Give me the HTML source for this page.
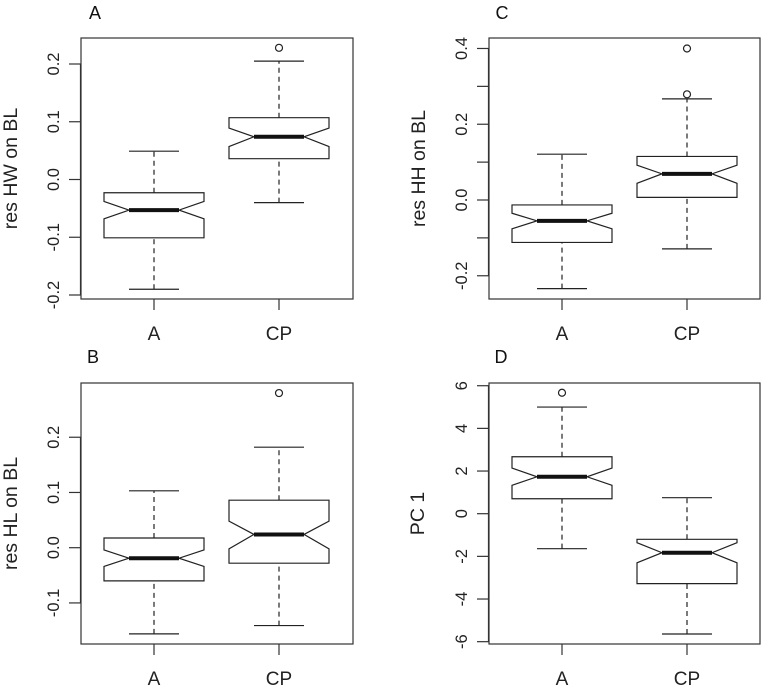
<!DOCTYPE html>
<html><head><meta charset="utf-8"><style>
html,body{margin:0;padding:0;background:#fff;}
svg{display:block;font-family:"Liberation Sans",Arial,sans-serif;}
</style></head><body>
<svg id="chart" width="761" height="686" viewBox="0 0 761 686" xmlns="http://www.w3.org/2000/svg"></svg>
<script>
const categories = ["A", "CP"];
// per panel: [whiskerLo, boxLo, notchLo, median, notchHi, boxHi, whiskerHi]
const statsA = [[-0.19,-0.101,-0.068,-0.053,-0.038,-0.023,0.049],[-0.040,0.036,0.057,0.074,0.089,0.107,0.205]];
const outliersA = [[],[0.228]];
const statsB = [[-0.156,-0.060,-0.034,-0.019,-0.004,0.0176,0.103],[-0.141,-0.028,-0.002,0.024,0.048,0.086,0.182]];
const outliersB = [[],[0.280]];
const statsC = [[-0.234,-0.112,-0.076,-0.055,-0.035,-0.013,0.121],[-0.129,0.007,0.044,0.069,0.092,0.115,0.267]];
const outliersC = [[],[0.279,0.40]];
const statsD = [[-1.64,0.70,1.33,1.73,2.14,2.67,5.0],[-5.64,-3.28,-2.30,-1.83,-1.36,-1.20,0.75]];
const outliersD = [[5.67],[]];
const ticksA = [-0.2,-0.1,0.0,0.1,0.2];
const tickLabelsA = ["-0.2","-0.1","0.0","0.1","0.2"];
const ticksB = [-0.1,0.0,0.1,0.2];
const tickLabelsB = ["-0.1","0.0","0.1","0.2"];
const ticksC = [-0.2,-0.1,0.0,0.1,0.2,0.3,0.4];
const tickLabelsC = ["-0.2","","0.0","","0.2","","0.4"];
const ticksD = [-6,-4,-2,0,2,4,6];
const tickLabelsD = ["-6","-4","-2","0","2","4","6"];

const NS="http://www.w3.org/2000/svg";
const svg=document.getElementById('chart');
function mk(tag,attrs,parent,text){const e=document.createElementNS(NS,tag);for(const k in attrs)e.setAttribute(k,attrs[k]);if(text!==undefined)e.textContent=text;(parent||svg).appendChild(e);return e;}

const panels=[
 {id:'a',title:'A',ylab:'res HW on BL',left:81,right:353,top:38,bottom:299,v0:0,p0:179.5,scale:577.5,stats:statsA,out:outliersA,ticks:ticksA,labels:tickLabelsA,titleX:95,titleY:19,ylabX:17},
 {id:'c',title:'C',ylab:'res HH on BL',left:489,right:760,top:38,bottom:299,v0:0,p0:200,scale:378.8,stats:statsC,out:outliersC,ticks:ticksC,labels:tickLabelsC,titleX:502,titleY:19,ylabX:425},
 {id:'b',title:'B',ylab:'res HL on BL',left:81,right:353,top:383,bottom:644,v0:0,p0:547.7,scale:552.3,stats:statsB,out:outliersB,ticks:ticksB,labels:tickLabelsB,titleX:93,titleY:363,ylabX:17},
 {id:'d',title:'D',ylab:'PC 1',left:489,right:760,top:383,bottom:644,v0:0,p0:513.7,scale:21.33,stats:statsD,out:outliersD,ticks:ticksD,labels:tickLabelsD,titleX:501,titleY:363,ylabX:424}
];

panels.forEach(p=>{
  const g=mk('g',{});
  
  
  const y=v=>p.p0-(v-p.v0)*p.scale;
  const x=i=>p.left+73+i*125;
  const t=mk('text',{x:p.titleX,y:p.titleY,'font-size':18,'text-anchor':'middle',fill:'#111'},g,p.title);
  
  
  const fr=mk('rect',{x:p.left,y:p.top,width:p.right-p.left,height:p.bottom-p.top,fill:'none',stroke:'#333','stroke-width':1.2},g);
  
  
  const ya=mk('g',{},g);
  
  
  const ys=p.ticks.map(y);
  mk('line',{x1:p.left-0.5,x2:p.left-0.5,y1:Math.min(...ys),y2:Math.max(...ys),stroke:'#333','stroke-width':1.2},ya);
  p.ticks.forEach((tv,i)=>{
    const yy=y(tv);
    mk('line',{x1:p.left-12,x2:p.left,y1:yy,y2:yy,stroke:'#333','stroke-width':1.2},ya);
    if(p.labels[i]){
      const lx=p.left-22;
      const tl=mk('text',{x:lx,y:yy,'font-size':16.5,'text-anchor':'middle',transform:`rotate(-90 ${lx} ${yy})`,fill:'#222'},ya,p.labels[i]);
      
      
    }
  });
  const yc=(p.top+p.bottom)/2;
  const yl=mk('text',{x:p.ylabX,y:yc,'font-size':19.5,'text-anchor':'middle',transform:`rotate(-90 ${p.ylabX} ${yc})`,fill:'#222'},g,p.ylab);
  
  
  categories.forEach((c,i)=>{
    const xx=x(i);
    mk('line',{x1:xx,x2:xx,y1:p.bottom,y2:p.bottom+11,stroke:'#333','stroke-width':1.2},g);
    const xl=mk('text',{x:xx,y:p.bottom+41,'font-size':19,'text-anchor':'middle',fill:'#222'},g,c);
    
    
    const s=p.stats[i];
    const bg=mk('g',{fill:'none',stroke:'#222','stroke-width':1.2},g);
    
    
    const hw=50,nw=25,cw=25;
    mk('line',{x1:xx,x2:xx,y1:y(s[0]),y2:y(s[1]),'stroke-dasharray':'5,4'},bg);
    mk('line',{x1:xx,x2:xx,y1:y(s[5]),y2:y(s[6]),'stroke-dasharray':'5,4'},bg);
    mk('line',{x1:xx-cw,x2:xx+cw,y1:y(s[0]),y2:y(s[0])},bg);
    mk('line',{x1:xx-cw,x2:xx+cw,y1:y(s[6]),y2:y(s[6])},bg);
    const pts=[[xx-hw,y(s[1])],[xx-hw,y(s[2])],[xx-nw,y(s[3])],[xx-hw,y(s[4])],[xx-hw,y(s[5])],[xx+hw,y(s[5])],[xx+hw,y(s[4])],[xx+nw,y(s[3])],[xx+hw,y(s[2])],[xx+hw,y(s[1])]];
    mk('polygon',{points:pts.map(q=>q.join(',')).join(' '),fill:'#fff'},bg);
    mk('line',{x1:xx-nw,x2:xx+nw,y1:y(s[3]),y2:y(s[3]),'stroke-width':4,stroke:'#111'},bg);
    p.out[i].forEach(o=>{
      const oc=mk('circle',{cx:xx,cy:y(o),r:3.5},bg);
      
      
    });
  });
});
</script>
</body></html>
